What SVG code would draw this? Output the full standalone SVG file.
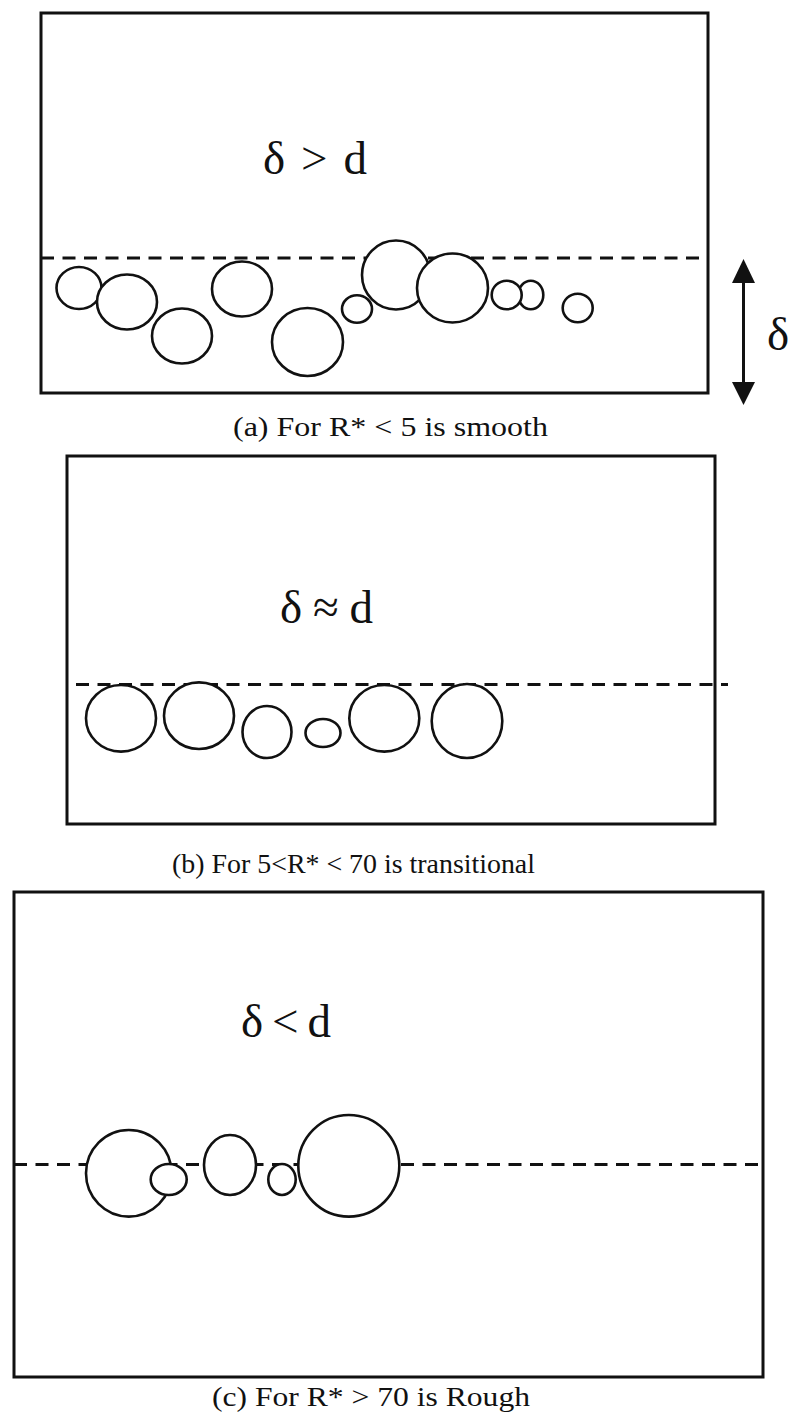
<svg xmlns="http://www.w3.org/2000/svg" width="792" height="1422" viewBox="0 0 792 1422">
<style>
.box{fill:none;stroke:#111;stroke-width:3}
.dash{fill:none;stroke:#111;stroke-width:3;stroke-dasharray:13 8.5}
.p{fill:#fff;stroke:#111;stroke-width:2.6}
.rel{font-family:"Liberation Serif","Times New Roman",serif;font-size:47px;fill:#111}
.cap{font-family:"Liberation Serif","Times New Roman",serif;font-size:28px;fill:#111}
</style>
<rect width="792" height="1422" fill="#fff"/>

<g id="panel-a">
<rect class="box" x="41" y="13" width="667" height="380"/>
<line class="dash" x1="41" y1="258" x2="708" y2="258"/>
<g id="particles-a">
<ellipse class="p" cx="79" cy="288" rx="22.5" ry="21"/>
<ellipse class="p" cx="127" cy="302" rx="30" ry="27.5"/>
<ellipse class="p" cx="182" cy="336" rx="30" ry="27.5"/>
<ellipse class="p" cx="242" cy="289" rx="30" ry="27.5"/>
<ellipse class="p" cx="307.5" cy="342" rx="35.5" ry="34"/>
<ellipse class="p" cx="357" cy="309" rx="15" ry="13.8"/>
<ellipse class="p" cx="396" cy="275" rx="34" ry="34.5"/>
<ellipse class="p" cx="452.5" cy="288" rx="35.5" ry="34.5"/>
<ellipse class="p" cx="530.8" cy="295" rx="12.5" ry="14.3"/>
<ellipse class="p" cx="506.7" cy="295" rx="15" ry="14.3"/>
<ellipse class="p" cx="577.7" cy="308" rx="15" ry="14.3"/>
</g>
<text class="rel" x="263" y="174" textLength="104" lengthAdjust="spacing">δ &gt; d</text>
<text class="cap" x="233" y="436" textLength="315" lengthAdjust="spacingAndGlyphs">(a) For R* &lt; 5 is smooth</text>
</g>

<g id="connectors">
<line x1="743.5" y1="272" x2="743.5" y2="392" stroke="#111" stroke-width="3"/>
<polygon points="743.5,259 755,283 732,283" fill="#111"/>
<polygon points="743.5,405 755,382 732,382" fill="#111"/>
</g>
<g id="delta-label">
<text class="rel" x="767" y="350">δ</text>
</g>

<g id="panel-b">
<rect class="box" x="67" y="456" width="648" height="368"/>
<line class="dash" x1="76" y1="684.5" x2="728" y2="684.5"/>
<g id="particles-b">
<ellipse class="p" cx="121" cy="718.3" rx="35" ry="33.3"/>
<ellipse class="p" cx="199" cy="715.7" rx="35" ry="33.3"/>
<ellipse class="p" cx="267" cy="732" rx="24.5" ry="26"/>
<ellipse class="p" cx="323" cy="733" rx="17.5" ry="14"/>
<ellipse class="p" cx="384.3" cy="718.3" rx="35" ry="33.3"/>
<ellipse class="p" cx="467" cy="721" rx="35.3" ry="37"/>
</g>
<text class="rel" x="280" y="623" textLength="93" lengthAdjust="spacing">δ ≈ d</text>
<text class="cap" x="172" y="873" textLength="363" lengthAdjust="spacingAndGlyphs">(b) For 5&lt;R* &lt; 70 is transitional</text>
</g>

<g id="panel-c">
<rect class="box" x="14" y="892" width="749" height="485"/>
<line class="dash" x1="14" y1="1164.5" x2="763" y2="1164.5"/>
<g id="particles-c">
<ellipse class="p" cx="128.8" cy="1173.3" rx="42.8" ry="43.3"/>
<ellipse class="p" cx="168.7" cy="1179.5" rx="18" ry="15.5"/>
<ellipse class="p" cx="230" cy="1165" rx="26" ry="30"/>
<ellipse class="p" cx="282" cy="1179.5" rx="13.7" ry="15.5"/>
<ellipse class="p" cx="348.8" cy="1165.8" rx="50.5" ry="50.8"/>
</g>
<text class="rel" x="241" y="1037" textLength="90" lengthAdjust="spacing">δ &lt; d</text>
<text class="cap" x="212" y="1406" textLength="318" lengthAdjust="spacingAndGlyphs">(c) For R* &gt; 70 is Rough</text>
</g>
</svg>
